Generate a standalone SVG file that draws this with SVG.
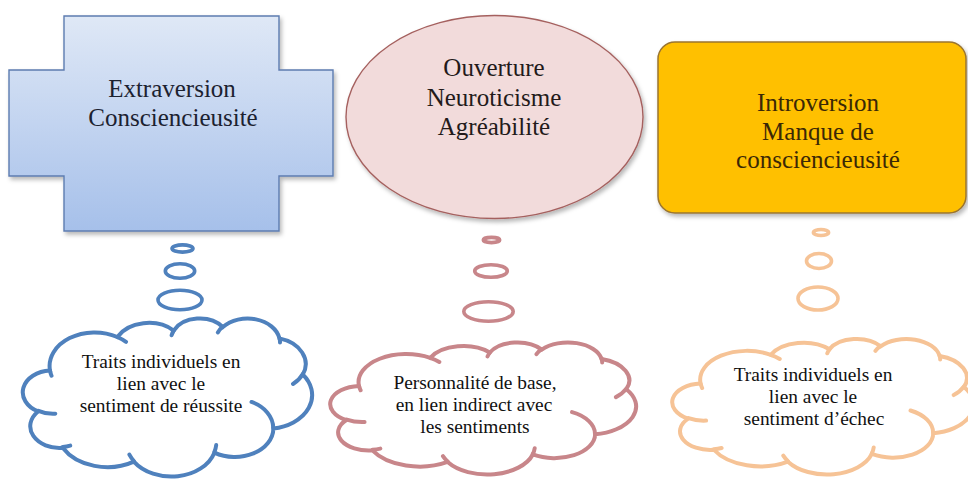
<svg xmlns="http://www.w3.org/2000/svg" xmlns:xlink="http://www.w3.org/1999/xlink" width="968" height="482" viewBox="0 0 968 482">
<style>
.title{font-family:"Liberation Serif","Times New Roman",serif;font-size:25px;text-anchor:middle;}
.ctext{font-family:"Liberation Serif","Times New Roman",serif;font-size:19.4px;fill:#111;text-anchor:middle;}
.blue{stroke:#4f81bd;}
.pink{stroke:#c8868a;}
.peach{stroke:#f6c396;}
.cl{fill:#fff;stroke-width:4;}
.in{fill:none;stroke-width:4;stroke-linecap:round;}
.bub{fill:#fff;stroke-width:3.6;}
</style>
<defs>
<linearGradient id="gBlue" x1="0" y1="0" x2="0" y2="1">
<stop offset="0" stop-color="#dfe8f6"/>
<stop offset="1" stop-color="#a6c0ea"/>
</linearGradient>
<filter id="sh" x="-10%" y="-10%" width="130%" height="130%">
<feDropShadow dx="2" dy="3" stdDeviation="2" flood-color="#000" flood-opacity="0.28"/>
</filter>
<path id="cloud" vector-effect="non-scaling-stroke" d="M3900 14370 A6753 9190 0 0 1 14005 5202 A5333 7267 0 0 1 22456 3433 A4365 5945 0 0 1 29833 2482 A4857 6595 0 0 1 38319 5577 A5333 7273 0 0 1 41819 15461 A6775 9220 0 0 1 37405 30204 A5785 7867 0 0 1 28556 36814 A6752 9215 0 0 1 16481 39265 A7720 10543 0 0 1 5805 35471 A4360 5918 0 0 1 2114 25549 A4345 5945 0 0 1 3900 14370 Z"/>
<path id="cloudIn" vector-effect="non-scaling-stroke" d="M4693 26177 A4345 5945 0 0 1 2160 25380 M6928 34899 A4360 5918 0 0 1 5820 35280 M16478 39090 A6752 9215 0 0 1 15810 37350 M28827 34751 A6752 9215 0 0 1 28560 36660 M34129 22954 A5785 7867 0 0 1 37380 30090 M41798 15354 A5333 7273 0 0 1 40350 18030 M38324 5426 A4857 6595 0 0 1 38400 6690 M29078 3952 A4857 6595 0 0 1 29820 2339 M22141 4720 A4365 5945 0 0 1 22500 3330 M14000 5192 A6753 9190 0 0 1 15300 6540 M4127 15789 A6753 9190 0 0 1 3900 14371"/>
</defs>
<rect width="968" height="482" fill="#fff"/>

<g id="node-extraversion">
<path d="M64 16 H279 V70 H333 V176 H279 V231 H64 V176 H9 V70 H64 Z" fill="url(#gBlue)" stroke="#5d7cb0" stroke-width="1.4" filter="url(#sh)"/>
<text class="title" fill="#1c2230" x="172" y="97">Extraversion</text>
<text class="title" fill="#1c2230" x="173" y="126">Consciencieusité</text>
</g>

<g id="node-ouverture">
<ellipse cx="494.5" cy="117" rx="148.5" ry="101.5" fill="#f2dbdb" stroke="#a5615f" stroke-width="1.4" filter="url(#sh)"/>
<text class="title" fill="#231a1a" x="494" y="76">Ouverture</text>
<text class="title" fill="#231a1a" x="494" y="106">Neuroticisme</text>
<text class="title" fill="#231a1a" x="494" y="135">Agréabilité</text>
</g>

<g id="node-introversion">
<rect x="658" y="42" width="308" height="171" rx="17" fill="#ffc000" stroke="#9a7530" stroke-width="1.5" filter="url(#sh)"/>
<text class="title" fill="#3b2806" x="818" y="111">Introversion</text>
<text class="title" fill="#3b2806" x="818" y="140">Manque de</text>
<text class="title" fill="#3b2806" x="818" y="168">consciencieusité</text>
</g>

<g id="connectors">
<g class="blue">
<ellipse class="bub" cx="182.5" cy="248.5" rx="10.5" ry="3.6"/>
<ellipse class="bub" cx="180" cy="271" rx="14.7" ry="7.2"/>
<ellipse class="bub" cx="180" cy="300" rx="22" ry="9.7"/>
</g>
<g class="pink">
<ellipse class="bub" cx="491.5" cy="240" rx="8.2" ry="2.6"/>
<ellipse class="bub" cx="491" cy="271" rx="16.3" ry="6.3"/>
<ellipse class="bub" cx="488.5" cy="311.5" rx="24.7" ry="9.7"/>
</g>
<g class="peach">
<ellipse class="bub" cx="821" cy="232.5" rx="7.6" ry="3"/>
<ellipse class="bub" cx="819" cy="261" rx="12.5" ry="7.5"/>
<ellipse class="bub" cx="818" cy="298.5" rx="20" ry="11.5"/>
</g>
</g>

<g id="cloud-reussite">
<use xlink:href="#cloud" class="cl blue" transform="translate(24 318) scale(0.0066667 0.0036574)"/>
<use xlink:href="#cloudIn" class="in blue" transform="translate(24 318) scale(0.0066667 0.0036574)"/>
<text class="ctext" x="161" y="368">Traits individuels en</text>
<text class="ctext" x="161" y="390">lien avec le</text>
<text class="ctext" x="161" y="412">sentiment de réussite</text>
</g>

<g id="cloud-base">
<use xlink:href="#cloud" class="cl pink" transform="translate(331.5 342) scale(0.0070486 0.0030556)"/>
<use xlink:href="#cloudIn" class="in pink" transform="translate(331.5 342) scale(0.0070486 0.0030556)"/>
<text class="ctext" x="475" y="389">Personnalité de base,</text>
<text class="ctext" x="474" y="411">en lien indirect avec</text>
<text class="ctext" x="475" y="433">les sentiments</text>
</g>

<g id="cloud-echec">
<use xlink:href="#cloud" class="cl peach" transform="translate(673.5 338.5) scale(0.0069444 0.0031366)"/>
<use xlink:href="#cloudIn" class="in peach" transform="translate(673.5 338.5) scale(0.0069444 0.0031366)"/>
<text class="ctext" x="813" y="381">Traits individuels en</text>
<text class="ctext" x="813" y="403">lien avec le</text>
<text class="ctext" x="814" y="425">sentiment d’échec</text>
</g>
</svg>
